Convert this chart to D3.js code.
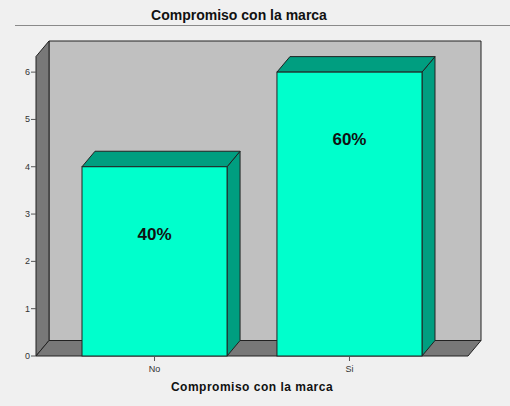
<!DOCTYPE html>
<html>
<head>
<meta charset="utf-8">
<script src="https://cdn.jsdelivr.net/npm/d3@7/dist/d3.min.js"></script>
<style>
  html, body { margin: 0; padding: 0; background: #f0f0f0; }
  svg { display: block; font-family: "Liberation Sans", Arial, sans-serif; }
</style>
</head>
<body>
<svg id="chart" width="510" height="406"></svg>
<script>
// Chart data
const categories = ["No", "Si"];
const counts = [4, 6];
const percents = [40, 60];
const yTicks = [0, 1, 2, 3, 4, 5, 6];
const chartTitle = "Compromiso con la marca";
const xTitle = "Compromiso con la marca";

const W = 510, H = 406;
const svg = d3.select("#chart");

// 3D depth offset of the box and bars
const DX = 13, DY = -15.5;

// Front plane of the plot
const x = d3.scaleBand()
  .domain(categories)
  .range([36, 468])
  .paddingInner(0.256)
  .paddingOuter(0.236);

const yMax = 6.33;
const y = d3.scaleLinear().domain([0, yMax]).range([356, 56.5]);

const stroke = "#222";
const pts = a => a.map(p => p.join(",")).join(" ");

// Title and rule under it
svg.append("text")
  .attr("x", 239).attr("y", 20)
  .attr("text-anchor", "middle")
  .attr("font-size", 14).attr("font-weight", "bold")
  .attr("fill", "#111")
  .text(chartTitle);
svg.append("line")
  .attr("x1", 15).attr("x2", W).attr("y1", 25.5).attr("y2", 25.5)
  .attr("stroke", "#8a8a8a").attr("stroke-width", 1);

const x0 = x.range()[0], x1 = x.range()[1];
const yb = y(0), yt = y(yMax);

// Back wall
svg.append("polygon")
  .attr("points", pts([[x0 + DX, yt + DY], [x1 + DX, yt + DY], [x1 + DX, yb + DY], [x0 + DX, yb + DY]]))
  .attr("fill", "#c0c0c0").attr("stroke", stroke).attr("stroke-width", 1);

// Left wall
svg.append("polygon")
  .attr("points", pts([[x0, yb], [x0, yt], [x0 + DX, yt + DY], [x0 + DX, yb + DY]]))
  .attr("fill", "#787878").attr("stroke", stroke).attr("stroke-width", 1);

// Floor
svg.append("polygon")
  .attr("points", pts([[x0, yb], [x0 + DX, yb + DY], [x1 + DX, yb + DY], [x1, yb]]))
  .attr("fill", "#787878").attr("stroke", stroke).attr("stroke-width", 1);

// Y axis ticks and labels
const yAxis = svg.append("g");
yTicks.forEach(t => {
  yAxis.append("line")
    .attr("x1", x0 - 5).attr("x2", x0)
    .attr("y1", y(t)).attr("y2", y(t))
    .attr("stroke", "#555").attr("stroke-width", 1);
  yAxis.append("text")
    .attr("x", x0 - 6).attr("y", y(t) + 3)
    .attr("text-anchor", "end")
    .attr("font-size", 9).attr("fill", "#333")
    .text(t);
});

// Bars: side, top, front
const bars = svg.append("g");
categories.forEach((c, i) => {
  const bx0 = x(c), bx1 = x(c) + x.bandwidth();
  const by = y(counts[i]);
  bars.append("polygon")
    .attr("points", pts([[bx1, yb], [bx1, by], [bx1 + DX, by + DY], [bx1 + DX, yb + DY]]))
    .attr("fill", "#009e80").attr("stroke", stroke).attr("stroke-width", 1);
  bars.append("polygon")
    .attr("points", pts([[bx0, by], [bx0 + DX, by + DY], [bx1 + DX, by + DY], [bx1, by]]))
    .attr("fill", "#009e80").attr("stroke", stroke).attr("stroke-width", 1);
  bars.append("rect")
    .attr("x", bx0).attr("y", by)
    .attr("width", x.bandwidth()).attr("height", yb - by)
    .attr("fill", "#00ffcc").attr("stroke", stroke).attr("stroke-width", 1);
  bars.append("text")
    .attr("x", bx0 + x.bandwidth() / 2).attr("y", by + 73)
    .attr("text-anchor", "middle")
    .attr("font-size", 17).attr("font-weight", "bold")
    .attr("fill", "#111")
    .text(percents[i] + "%");
});

// X axis ticks and labels
const xAxis = svg.append("g");
categories.forEach(c => {
  const cx = x(c) + x.bandwidth() / 2;
  xAxis.append("line")
    .attr("x1", cx).attr("x2", cx).attr("y1", yb).attr("y2", yb + 5)
    .attr("stroke", "#555").attr("stroke-width", 1);
  xAxis.append("text")
    .attr("x", cx).attr("y", yb + 16)
    .attr("text-anchor", "middle")
    .attr("font-size", 9).attr("fill", "#333")
    .text(c);
});

svg.append("text")
  .attr("x", (x0 + x1) / 2).attr("y", 391)
  .attr("text-anchor", "middle")
  .attr("font-size", 12).attr("font-weight", "bold")
  .attr("letter-spacing", 0.5)
  .attr("fill", "#111")
  .text(xTitle);
</script>
</body>
</html>
